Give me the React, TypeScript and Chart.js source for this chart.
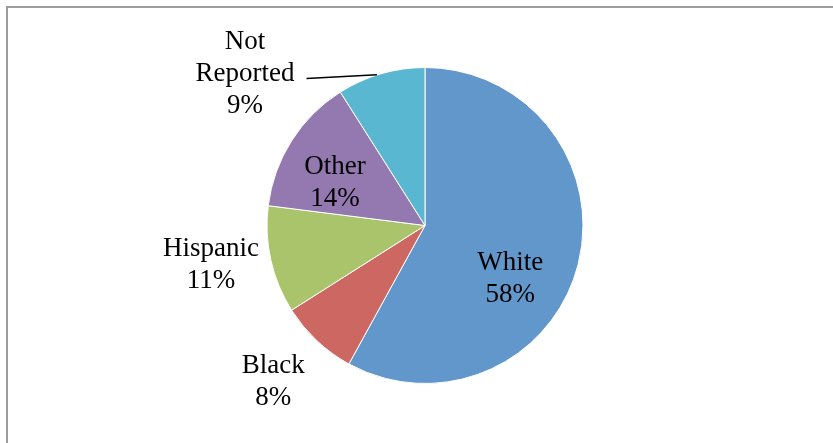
import React, { useEffect, useRef } from "react";
import { Chart, registerables } from "chart.js";

Chart.register(...registerables);

const categories = ["White", "Black", "Hispanic", "Other", "Not Reported"];
const values = [58, 8, 11, 14, 9];
const labelLines = [["White", "58%"], ["Black", "8%"], ["Hispanic", "11%"], ["Other", "14%"], ["Not", "Reported", "9%"]];
const colors = ["#6197CA", "#CC6761", "#AAC46C", "#9379AF", "#5AB7D1"];
// label anchors relative to pie centre, in units of the radius
const labelAnchors = [
  [0.54, 0.335],
  [-0.96, 0.99],
  [-1.354, 0.247],
  [-0.57, -0.272],
  [-1.139, -0.962],
];

const FONT = "27px 'Liberation Serif', serif";
const LINE_H = 32;

const framePlugin = {
  id: "frame",
  beforeDraw(chart: any) {
    const ctx = chart.ctx;
    ctx.save();
    ctx.fillStyle = "#ffffff";
    ctx.fillRect(0, 0, chart.width, chart.height);
    ctx.fillStyle = "#9C9C9C";
    ctx.fillRect(6, 6, chart.width - 6, 2);
    ctx.fillRect(6, 6, 2, chart.height - 6);
    ctx.restore();
  },
};

const labelPlugin = {
  id: "pieLabels",
  afterDatasetsDraw(chart: any) {
    const ctx = chart.ctx;
    const meta = chart.getDatasetMeta(0);
    ctx.save();
    ctx.font = FONT;
    ctx.fillStyle = "#000000";
    ctx.textAlign = "center";
    ctx.textBaseline = "middle";
    meta.data.forEach((arc: any, i: number) => {
      const { x, y, outerRadius, startAngle, endAngle } = arc.getProps(
        ["x", "y", "outerRadius", "startAngle", "endAngle"],
        true
      );
      const lx = x + labelAnchors[i][0] * outerRadius;
      const ly = y + labelAnchors[i][1] * outerRadius;
      const lines = labelLines[i];
      const top = ly - ((lines.length - 1) * LINE_H) / 2;
      lines.forEach((t, k) => ctx.fillText(t, lx, top + k * LINE_H));
      if (i === 4) {
        // leader line from label to arc midpoint
        const mid = (startAngle + endAngle) / 2;
        const ax = x + Math.cos(mid) * outerRadius;
        const ay = y + Math.sin(mid) * outerRadius;
        const w = ctx.measureText(lines[1]).width;
        ctx.strokeStyle = "#000000";
        ctx.lineWidth = 1.5;
        ctx.beginPath();
        ctx.moveTo(lx + w / 2 + 12, ly + 5);
        ctx.lineTo(ax - 4, ay + 1);
        ctx.stroke();
      }
    });
    ctx.restore();
  },
};

export default function App() {
  const ref = useRef<HTMLCanvasElement>(null);
  useEffect(() => {
    if (!ref.current) return;
    const chart = new Chart(ref.current, {
      type: "pie",
      data: {
        labels: categories,
        datasets: [
          {
            data: values,
            backgroundColor: colors,
            borderColor: "#ffffff",
            borderWidth: 1,
          },
        ],
      },
      options: {
        animation: false,
        responsive: false,
        maintainAspectRatio: false,
        layout: { padding: { top: 67, bottom: 59, left: 100, right: 83 } },
        plugins: { legend: { display: false }, tooltip: { enabled: false } },
      },
      plugins: [framePlugin, labelPlugin],
    });
    return () => chart.destroy();
  }, []);
  return (
    <div style={{ position: "absolute", left: 0, top: 0, width: 833, height: 443 }}>
      <canvas ref={ref} width={833} height={443} />
    </div>
  );
}
